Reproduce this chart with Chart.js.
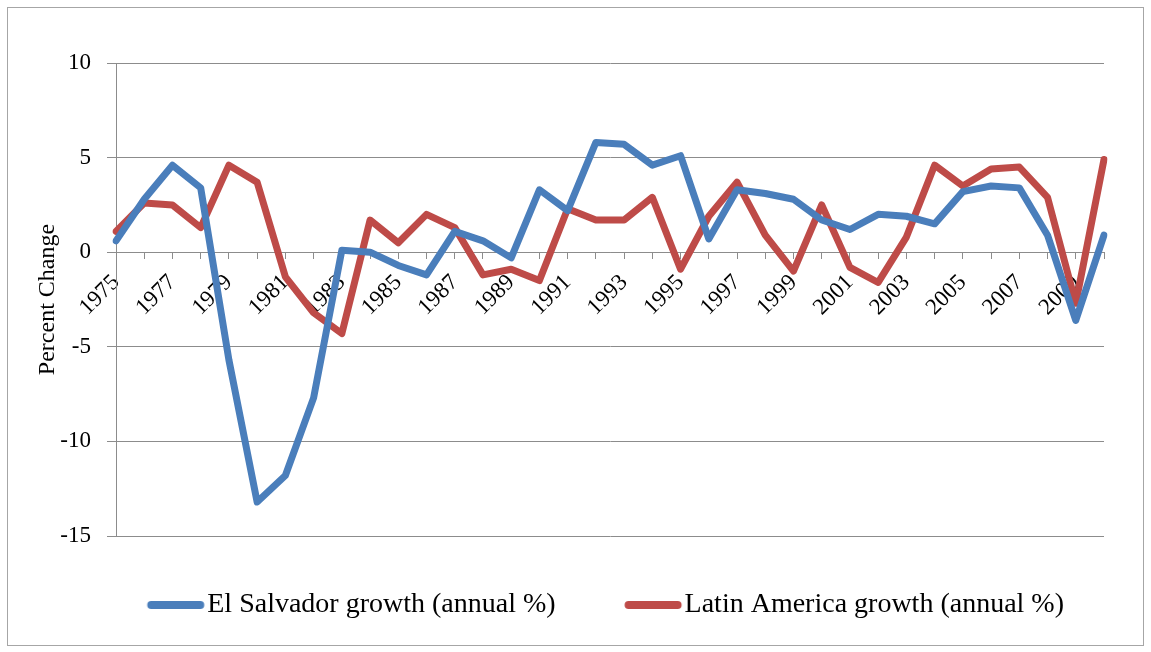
<!DOCTYPE html>
<html>
<head>
<meta charset="utf-8">
<script src="https://cdn.jsdelivr.net/npm/chart.js@4.4.1/dist/chart.umd.min.js"></script>
<style>
  html, body { margin: 0; padding: 0; background: #fff; }
  #wrap { width: 1151px; height: 652px; position: relative; }
</style>
</head>
<body>
<div id="wrap"><canvas id="growthChart"></canvas></div>
<script>
const years = ['1975','1976','1977','1978','1979','1980','1981','1982','1983','1984',
  '1985','1986','1987','1988','1989','1990','1991','1992','1993','1994',
  '1995','1996','1997','1998','1999','2000','2001','2002','2003','2004',
  '2005','2006','2007','2008','2009','2010'];

const elSalvador = [0.6, 2.8, 4.6, 3.4, -5.7, -13.2, -11.8, -7.7, 0.1, 0.0,
  -0.7, -1.2, 1.1, 0.6, -0.3, 3.3, 2.2, 5.8, 5.7, 4.6,
  5.1, 0.7, 3.3, 3.1, 2.8, 1.7, 1.2, 2.0, 1.9, 1.5,
  3.2, 3.5, 3.4, 0.9, -3.6, 0.9];

const latinAmerica = [1.1, 2.6, 2.5, 1.3, 4.6, 3.7, -1.3, -3.2, -4.3, 1.7,
  0.5, 2.0, 1.3, -1.2, -0.9, -1.5, 2.3, 1.7, 1.7, 2.9,
  -0.9, 1.9, 3.7, 0.9, -1.0, 2.5, -0.8, -1.6, 0.8, 4.6,
  3.5, 4.4, 4.5, 2.9, -2.7, 4.9];

// only every other year gets a label on the x axis
const shownYears = ['1975','1977','1979','1981','1983','1985','1987','1989','1991',
  '1993','1995','1997','1999','2001','2003','2005','2007','2009'];

const yTicks = [-15, -10, -5, 0, 5, 10];

const seriesNames = ['El Salvador growth (annual %)', 'Latin America growth (annual %)'];
const seriesColors = ['#4A7EBB', '#BE4B48'];

const gridGray = '#8c8c8c';

// legend key: thick rounded stroke. The image is centred on the legend box,
// so the stroke sits in its right part and ends just before the label text.
function legendKey(color) {
  const k = document.createElement('canvas');
  k.width = 100;
  k.height = 12;
  const c = k.getContext('2d');
  c.strokeStyle = color;
  c.lineWidth = 8;
  c.lineCap = 'round';
  c.beginPath();
  c.moveTo(45.5, 6);
  c.lineTo(94.5, 6);
  c.stroke();
  return k;
}

const frame = {
  id: 'frame',
  beforeDraw(chart) {
    const c = chart.ctx;
    c.save();
    c.fillStyle = '#fff';
    c.fillRect(0, 0, chart.width, chart.height);
    c.strokeStyle = '#a6a6a6';
    c.lineWidth = 1;
    c.strokeRect(7.5, 7.5, 1136, 638);
    c.restore();
  }
};

function makeSet(i, values) {
  return {
    label: seriesNames[i],
    data: values,
    borderColor: seriesColors[i],
    backgroundColor: seriesColors[i],
    borderWidth: 7,
    borderCapStyle: 'round',
    borderJoinStyle: 'round',
    pointRadius: 0,
    pointHoverRadius: 0,
    pointStyle: legendKey(seriesColors[i]),
    tension: 0
  };
}

const canvas = document.getElementById('growthChart');
new Chart(canvas.getContext('2d'), {
  type: 'line',
  data: {
    labels: years,
    datasets: [makeSet(0, elSalvador), makeSet(1, latinAmerica)]
  },
  plugins: [frame],
  options: {
    responsive: true,
    maintainAspectRatio: false,
    animation: false,
    layout: { padding: { top: 63, right: 47, bottom: 23, left: 0 } },
    plugins: {
      tooltip: { enabled: false },
      // empty bottom title used only as a gap between plot and legend
      title: {
        display: true,
        text: '',
        position: 'bottom',
        weight: 500,
        padding: 0,
        font: { size: 15, lineHeight: 1 }
      },
      legend: {
        position: 'bottom',
        align: 'end',
        fullSize: true,
        labels: {
          usePointStyle: true,
          pointStyleWidth: 75,
          boxHeight: 12,
          padding: 40,
          color: '#000',
          font: { family: 'Liberation Serif', size: 28 }
        }
      }
    },
    scales: {
      x: {
        position: { y: 0 },
        offset: false,
        grid: {
          drawOnChartArea: false,
          drawTicks: true,
          tickLength: 6,
          color: gridGray
        },
        border: { display: true, color: gridGray, width: 1 },
        ticks: {
          autoSkip: false,
          minRotation: 45,
          maxRotation: 45,
          padding: 11,
          color: '#000',
          font: { family: 'Liberation Serif', size: 23 },
          callback: function (value) {
            const lab = this.getLabelForValue(value);
            return shownYears.includes(lab) ? lab : '';
          }
        }
      },
      y: {
        min: yTicks[0],
        max: yTicks[yTicks.length - 1],
        afterFit: (s) => { s.width = 116; },
        afterBuildTicks: (s) => { s.ticks = yTicks.map(v => ({ value: v })); },
        grid: { color: gridGray, tickLength: 9 },
        border: { display: true, color: gridGray },
        ticks: {
          padding: 16,
          color: '#000',
          font: { family: 'Liberation Serif', size: 23 }
        },
        title: {
          display: true,
          text: 'Percent Change',
          color: '#000',
          padding: { top: 33, bottom: 0 },
          font: { family: 'Liberation Serif', size: 24 }
        }
      }
    }
  }
});
</script>
</body>
</html>
